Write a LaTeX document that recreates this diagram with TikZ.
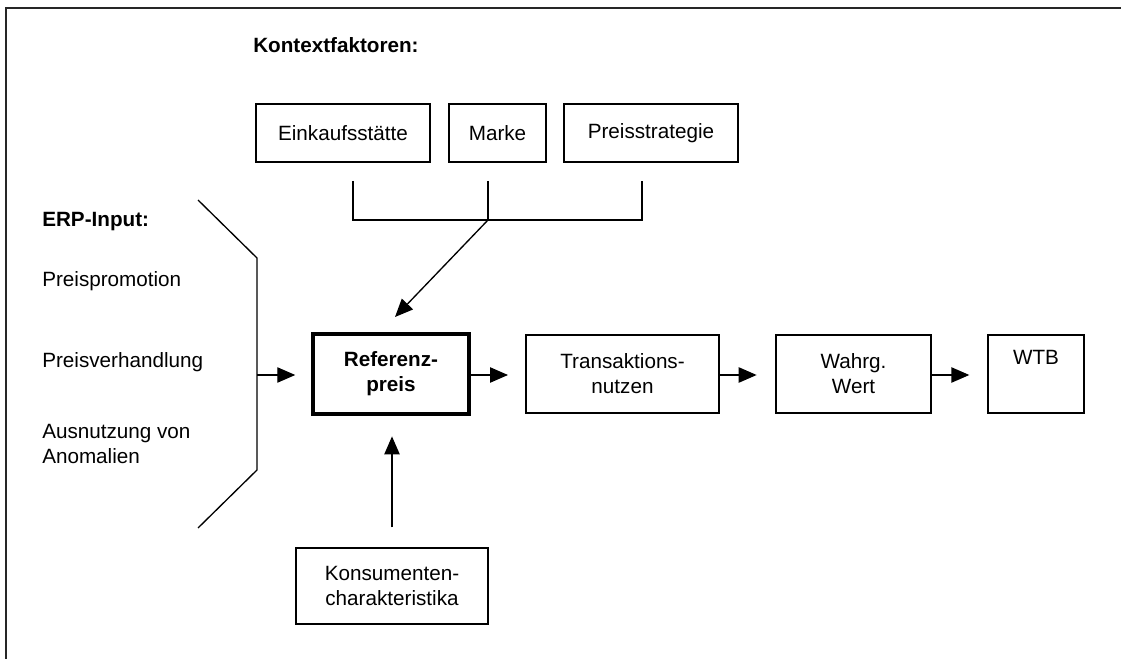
\documentclass[tikz,border=0pt]{standalone}
\usepackage{fontspec}
\setmainfont{Liberation Sans}
\usetikzlibrary{arrows.meta}
\begin{document}
\begin{tikzpicture}[x=0.75pt,y=-0.75pt,
  font=\fontsize{15.5pt}{18.75pt}\selectfont,
  box/.style={draw, line width=1pt, align=center, inner sep=0pt},
  lbl/.style={anchor=base west, inner sep=0pt},
  arr/.style={-{Triangle[length=13.5pt,width=11.5pt]}, line width=1pt},
  ln/.style={line width=1pt},
  frame/.style={line width=1.6pt, draw=black!85}]
\useasboundingbox (0,0) rectangle (1121,659);
% frame (top and left only)
\draw[frame] (6,659) -- (6,8) -- (1121,8);

% headings and left labels
\node[lbl, font=\fontsize{15.5pt}{18.75pt}\selectfont\bfseries] (kontext) at (253,53) {Kontextfaktoren:};
\node[lbl, font=\fontsize{15.5pt}{18.75pt}\selectfont\bfseries] (erp) at (42,227) {ERP-Input:};
\node[lbl] (promo) at (42,287) {Preispromotion};
\node[lbl] (verh) at (42,368) {Preisverhandlung};
\node[lbl, align=left, anchor=north west] (anom) at (42,424) {Ausnutzung von\\Anomalien};

% context boxes
\node[box, minimum width=130.5pt, minimum height=43.5pt] (eink) at (343,133) {Einkaufsstätte};
\node[box, minimum width=72.75pt, minimum height=43.5pt] (marke) at (497.5,133) {Marke};
\node[box, minimum width=130.5pt, minimum height=43.5pt] (pstrat) at (651,133) {Preisstrategie};

% main chain
\node[box, line width=2.6pt, minimum width=117pt, minimum height=60pt, font=\fontsize{15.5pt}{18.75pt}\selectfont\bfseries] (ref) at (391,374) {Referenz-\\preis};
\node[box, minimum width=144.75pt, minimum height=58.5pt] (trans) at (622.5,374) {Transaktions-\\nutzen};
\node[box, minimum width=116.25pt, minimum height=58.5pt] (wahr) at (853.5,374) {Wahrg.\\Wert};
\node[box, minimum width=72pt, minimum height=58.5pt] (wtb) at (1036,374) {WTB\\\strut};
\node[box, minimum width=144pt, minimum height=57pt] (kons) at (392,586) {Konsumenten-\\charakteristika};

% bracket under context boxes
\coordinate (kL) at (353,181);
\coordinate (kM) at (488,181);
\coordinate (kR) at (642,181);
\coordinate (kJ) at (488,220);
\coordinate (kT) at (395,317);
\draw[ln] (kL) |- (kJ) -| (kR);
\draw[ln] (kM) -- (kJ);
\draw[arr] (kJ) -- (kT);

% left bracket
\coordinate (e1) at (198,200);
\coordinate (e2) at (257,258);
\coordinate (e3) at (257,470);
\coordinate (e4) at (198,528);
\coordinate (eJ) at (257,375);
\draw[ln] (e1) -- (e2) -- (e3) -- (e4);
\draw[arr, shorten >=12pt] (eJ) -- (eJ -| ref.west);

% chain arrows
\draw[arr, shorten >=13pt] (ref.east |- eJ) -- (eJ -| trans.west);
\draw[arr, shorten >=14pt] (trans.east |- eJ) -- (eJ -| wahr.west);
\draw[arr, shorten >=13.5pt] (wahr.east |- eJ) -- (eJ -| wtb.west);

% up arrow
\draw[arr, shorten <=15pt, shorten >=15.5pt] (kons.north) -- (kons.north |- ref.south);
\end{tikzpicture}
\end{document}
